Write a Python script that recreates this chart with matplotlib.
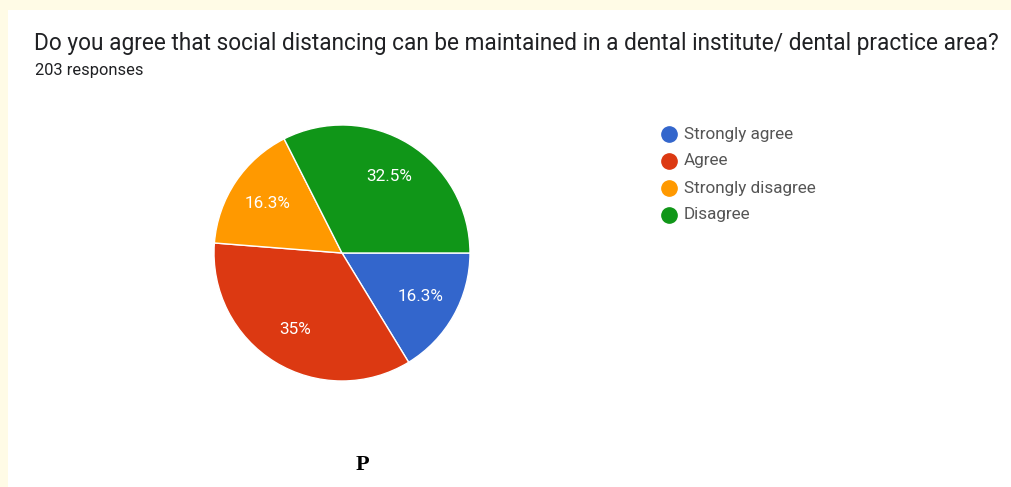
import matplotlib
matplotlib.use("Agg")
import numpy as np
import matplotlib.pyplot as plt
from matplotlib.lines import Line2D
from matplotlib.patches import Rectangle

labels = ["Strongly agree", "Agree", "Strongly disagree", "Disagree"]
shares = [16.3, 35, 16.3, 32.5]
pct_text = ["16.3%", "35%", "16.3%", "32.5%"]
colors = ["#3366cc", "#dc3912", "#ff9900", "#109618"]

W, H = 1011, 487
fig = plt.figure(figsize=(W / 100, H / 100), dpi=100)
fig.patch.set_facecolor("#fffbe6")
# white card
fig.add_artist(Rectangle((8 / W, 0), 1, 1 - 10 / H, transform=fig.transFigure,
                         facecolor="white", edgecolor="none", zorder=0))

fig.text(34 / W, 1 - 50 / H,
         "Do you agree that social distancing can be maintained in a dental institute/ dental practice area?",
         fontsize=16.3, family="Roboto", color="#202124", va="baseline")
fig.text(35 / W, 1 - 75 / H, "203 responses", fontsize=11.9, family="Roboto",
         color="#202124", va="baseline")

# pie
cx, cy, r = 342, 253, 128
ax = fig.add_axes([(cx - r) / W, (H - cy - r) / H, 2 * r / W, 2 * r / H])
wedges, _ = ax.pie(shares, colors=colors, startangle=0, counterclock=False,
                   wedgeprops=dict(edgecolor="white", linewidth=1))
ax.set_xlim(-1, 1)
ax.set_ylim(-1, 1)
ax.set_aspect("equal")
ax.axis("off")

tot = sum(shares)
ang = 0.0
for s, t in zip(shares, pct_text):
    mid = ang - s / tot * 180
    ang -= s / tot * 360
    d = 0.70
    ax.text(d * np.cos(np.radians(mid)), d * np.sin(np.radians(mid)), t,
            ha="center", va="center", color="white", fontsize=12.3, family="Roboto")

# legend, drawn by hand so the rows sit where the reference has them
for i, (lab, c) in enumerate(zip(labels, colors)):
    y = 1 - (134 + 27 * i) / H
    fig.add_artist(Line2D([669 / W], [y], marker="o", markersize=11,
                          markerfacecolor=c, markeredgecolor=c,
                          transform=fig.transFigure))
    fig.text(684 / W, y, lab, fontsize=12.3, family="Roboto", color="#555555",
             va="center")

fig.text(362 / W, 1 - 465 / H, "P", fontsize=16, family="Liberation Serif",
         weight="bold", ha="center", va="center", color="black")

fig.savefig("out.png", dpi=100, facecolor=fig.get_facecolor())
